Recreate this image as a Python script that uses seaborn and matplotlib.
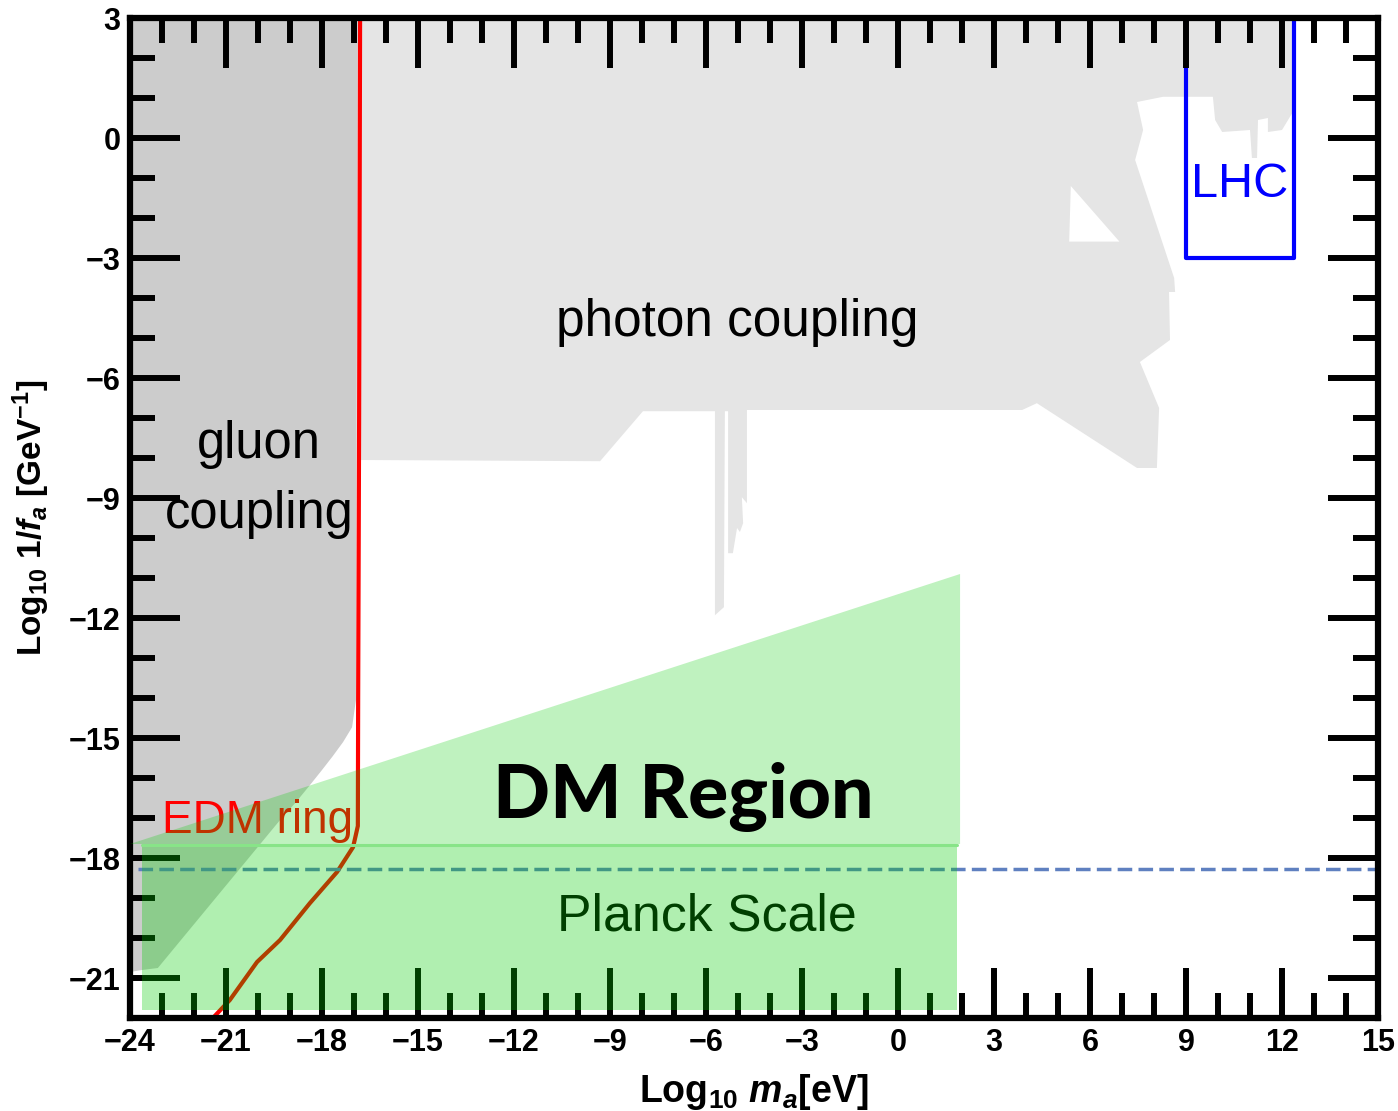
import numpy as np
import matplotlib
matplotlib.use('Agg')
import matplotlib.pyplot as plt
import seaborn as sns

# log10 m_a [eV] vs log10 1/f_a [GeV^-1], boundaries

# photon coupling exclusion (light gray)
photon_x = [-16.81, 12.34, 12.34, 12.0, 11.56, 11.56, 11.25, 11.22, 11.06, 11.0,
            10.13, 9.91, 9.84, 8.28, 7.47, 7.66, 7.41, 8.63, 8.66, 8.47,
            8.5, 7.56, 8.16, 8.09, 7.47, 4.34, 3.88, -4.72, -4.72, -4.88,
            -4.84, -4.94, -5.03, -5.16, -5.31, -5.31, -5.41, -5.44, -5.72, -5.72,
            -7.97, -9.31, -16.81]
photon_y = [3, 3, 0.65, 0.2, 0.15, 0.5, 0.45, -0.5, -0.5, 0.2,
            0.15, 0.45, 1.03, 1.03, 0.9, 0.2, -0.55, -3.5, -3.85, -3.85,
            -5.05, -5.6, -6.75, -8.25, -8.25, -6.63, -6.8, -6.8, -9.13, -8.98,
            -9.63, -9.85, -9.75, -10.38, -10.38, -6.83, -6.83, -11.73, -11.93, -6.83,
            -6.83, -8.08, -8.05]
# unexcluded pocket inside the photon region
hole_x = [5.40, 6.92, 5.35]
hole_y = [-1.2, -2.59, -2.59]

# gluon coupling exclusion (darker gray)
gluon_x = [-24, -16.88, -16.94, -17.06, -17.34, -17.66, -18.0, -18.38, -18.81,
           -19.31, -23.13, -23.63, -24]
gluon_y = [3, 3, -14.05, -14.73, -15.1, -15.45, -15.8, -16.18, -16.6,
           -17.05, -20.75, -20.8, -20.85]

# EDM ring sensitivity
edm_x = [-16.81, -16.84, -16.87, -16.88, -16.95, -17.03, -17.53, -18.38,
         -19.31, -20.03, -20.88, -21.41]
edm_y = [3, -7.0, -14.0, -17.2, -17.45, -17.73, -18.35, -19.13,
         -20.05, -20.6, -21.55, -22.0]

# LHC box
lhc_x = [9.0, 9.0, 12.37, 12.37]
lhc_y = [3, -3, -3, 3]

# dark matter region (upper wedge) and Planck-scale band
dm_x = [-24, 1.94, 1.94]
dm_y = [-17.65, -10.9, -17.65]
planck_x = [-23.63, 1.84, 1.84, -23.63]
planck_y = [-17.68, -17.68, -21.8, -21.8]
planck_line = -18.28

x_major = [-24, -21, -18, -15, -12, -9, -6, -3, 0, 3, 6, 9, 12, 15]
y_major = [-21, -18, -15, -12, -9, -6, -3, 0, 3]
x_minor = list(range(-24, 16))
y_minor = list(range(-22, 4))

sns.set_style("ticks")
plt.rcParams['font.family'] = ['Liberation Sans', 'DejaVu Sans']
plt.rcParams['text.color'] = 'black'
plt.rcParams['axes.labelcolor'] = 'black'
plt.rcParams['xtick.color'] = 'black'
plt.rcParams['ytick.color'] = 'black'
plt.rcParams['mathtext.fontset'] = 'custom'
plt.rcParams['mathtext.rm'] = 'Liberation Sans:bold'
plt.rcParams['mathtext.it'] = 'Liberation Sans:italic:bold'
plt.rcParams['mathtext.bf'] = 'Liberation Sans:bold'

fig = plt.figure(figsize=(13.98, 11.11), dpi=100)
ax = fig.add_axes([130 / 1398, 93 / 1111, 1248 / 1398, 1000 / 1111])

ax.fill(photon_x, photon_y, color='#e5e5e5', lw=0, zorder=1)
ax.fill(hole_x, hole_y, color='white', lw=0, zorder=1.05)
ax.fill(gluon_x, gluon_y, color='#cccccc', lw=0, zorder=1.1)

sns.lineplot(x=edm_x, y=edm_y, sort=False, estimator=None, color='red',
             lw=3, ax=ax, zorder=2)
sns.lineplot(x=lhc_x, y=lhc_y, sort=False, estimator=None, color='blue',
             lw=3, ax=ax, zorder=2)
ax.plot([-23.75, 15], [planck_line, planck_line], color='#5f80c0', lw=2.5,
        linestyle=(0, (4.2, 1.8)), zorder=2)

green = (0.0, 0.8, 0.0)
ax.fill(dm_x, dm_y, color=green, alpha=0.25, lw=0, zorder=4)
ax.fill(planck_x, planck_y, color=green, alpha=0.31, lw=0, zorder=4)
ax.plot([planck_x[0], planck_x[1]], [planck_y[0], planck_y[1]], color='#88e488',
        lw=2.2, zorder=4)

ax.text(-5.02, -4.95, "photon coupling", fontsize=37, ha='center', va='baseline', zorder=3)
ax.text(-19.97, -8.0, "gluon", fontsize=36.5, ha='center', va='baseline', zorder=3)
ax.text(-19.97, -9.75, "coupling", fontsize=36.5, ha='center', va='baseline', zorder=3)
ax.text(-20.0, -17.375, "EDM ring", fontsize=33, color='red', ha='center', va='baseline', zorder=3)
ax.text(-5.98, -19.82, "Planck Scale", fontsize=37.4, color='black', ha='center', va='baseline', zorder=3)
ax.text(10.69, -1.475, "LHC", fontsize=35, color='blue', ha='center', va='baseline', zorder=3)
ax.text(-6.72, -17.0, "DM Region", fontsize=54, family=['Lato', 'DejaVu Sans'],
        fontweight='black', color='black', ha='center', va='baseline', zorder=5)

ax.set_xlim(-24, 15)
ax.set_ylim(-22, 3)
ax.set_xticks(x_major)
ax.set_xticklabels([str(v).replace('-', '\u2212') for v in x_major])
ax.set_yticks(y_major)
ax.set_yticklabels([str(v).replace('-', '\u2212') for v in y_major])
ax.set_xticks(x_minor, minor=True)
ax.set_yticks(y_minor, minor=True)
ax.set_axisbelow(False)
ax.tick_params(which='both', direction='in', top=True, right=True, width=4.3,
               color='black')
ax.tick_params(which='major', length=36, labelsize=22, pad=7)
ax.tick_params(which='minor', length=18)
for lab in ax.get_xticklabels() + ax.get_yticklabels():
    lab.set_fontweight('bold')
for sp in ax.spines.values():
    sp.set_linewidth(4.5)
    sp.set_color('black')

ax.set_xlabel(r"Log$_{10}$ $m_a$[eV]", fontsize=27, fontweight='bold', labelpad=10)
ax.set_ylabel(r"Log$_{10}$ 1/$f_a$ [GeV$^{-1}$]", fontsize=24, fontweight='bold', labelpad=12)

fig.savefig("out.png", dpi=100)
